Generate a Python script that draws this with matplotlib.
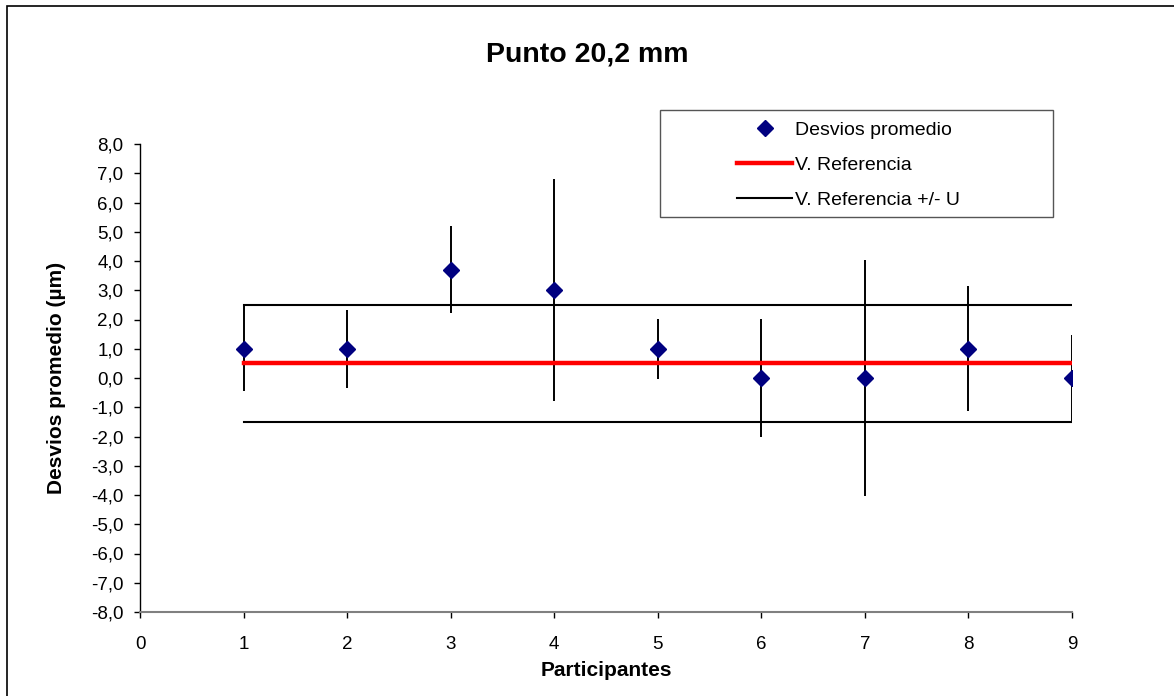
import numpy as np
import matplotlib.pyplot as plt
from matplotlib.patches import Rectangle

plt.rcParams['font.family'] = ['Liberation Sans', 'DejaVu Sans']

# data
participantes = [1, 2, 3, 4, 5, 6, 7, 8, 9]
desvios = [1.0, 1.0, 3.7, 3.0, 1.0, 0.0, 0.0, 1.0, 0.0]
err_sup = [1.45, 1.33, 1.48, 3.8, 1.03, 2.03, 4.02, 2.13, 1.48]
err_inf = [1.43, 1.34, 1.48, 3.8, 1.03, 2.03, 4.05, 2.14, 1.5]
ref_x = [1, 9]
v_ref = [0.5, 0.5]
v_ref_sup = [2.5, 2.5]
v_ref_inf = [-1.5, -1.5]
yticks = np.arange(-8, 9, 1)
ytick_labels = [f"{v:.1f}".replace(".", ",") for v in yticks]
xticks = list(range(0, 10))

fig = plt.figure(figsize=(11.74, 6.96), dpi=100)
ax = fig.add_axes([140/1174, 1-612/696, 932/1174, 468/696])

ax.errorbar(participantes, desvios, yerr=[err_inf, err_sup], fmt='none',
            ecolor='black', elinewidth=1.4, capsize=0, zorder=3)
pts, = ax.plot(participantes, desvios, 'D', color='#000080', markersize=8,
               linestyle='none', zorder=5, label='Desvios promedio')
ref, = ax.plot(ref_x, v_ref, color='#ff0000', linewidth=3.2, zorder=4,
               label='V. Referencia')
u1, = ax.plot(ref_x, v_ref_sup, color='black', linewidth=1.5, zorder=2,
              label='V. Referencia +/- U')
ax.plot(ref_x, v_ref_inf, color='black', linewidth=1.5, zorder=2)

ax.set_xlim(0, 9)
ax.set_ylim(-8, 8)
ax.set_yticks(yticks)
ax.set_yticklabels(ytick_labels)
ax.set_xticks(xticks)
ax.tick_params(axis='both', labelsize=13.5, direction='out', length=4.5,
               width=1, color='black')
ax.tick_params(axis='x', pad=13)
ax.tick_params(axis='y', pad=7.5)
for s in ['top', 'right']:
    ax.spines[s].set_visible(False)
ax.spines['left'].set_linewidth(1)
ax.spines['bottom'].set_linewidth(1.5)
ax.spines['bottom'].set_color('#808080')

ax.set_xlabel('Participantes', fontsize=15, fontweight='bold')
ax.set_ylabel('Desvios promedio (µm)', fontsize=15, fontweight='bold')
ax.xaxis.set_label_coords(0.5, (612-661)/468)
ax.yaxis.set_label_coords((57-140)/932, 0.5)
ax.yaxis.label.set_va('center')
fig.text(0.5, 1-55/696, 'Punto 20,2 mm', fontsize=20.5, fontweight='bold',
         ha='center', va='center')

leg = fig.legend(handles=[pts, ref, u1], loc='upper left',
                 bbox_to_anchor=(737/1174, 1-121/696), frameon=False,
                 fontsize=14, handlelength=2.85, handletextpad=0.15,
                 labelspacing=0.9, borderpad=0, borderaxespad=0)
fig.patches.append(Rectangle((660/1174, 1-217/696), 393/1174, 107/696,
                             transform=fig.transFigure, fill=False,
                             edgecolor='#555555', linewidth=1))
# outer chart frame (only top and left edges fall inside the picture)
fig.patches.append(Rectangle((7/1174, -0.05), 1.1, 1.05 - 6/696,
                             transform=fig.transFigure, fill=False,
                             edgecolor='black', linewidth=1.2))

fig.savefig('out.png', dpi=100)
